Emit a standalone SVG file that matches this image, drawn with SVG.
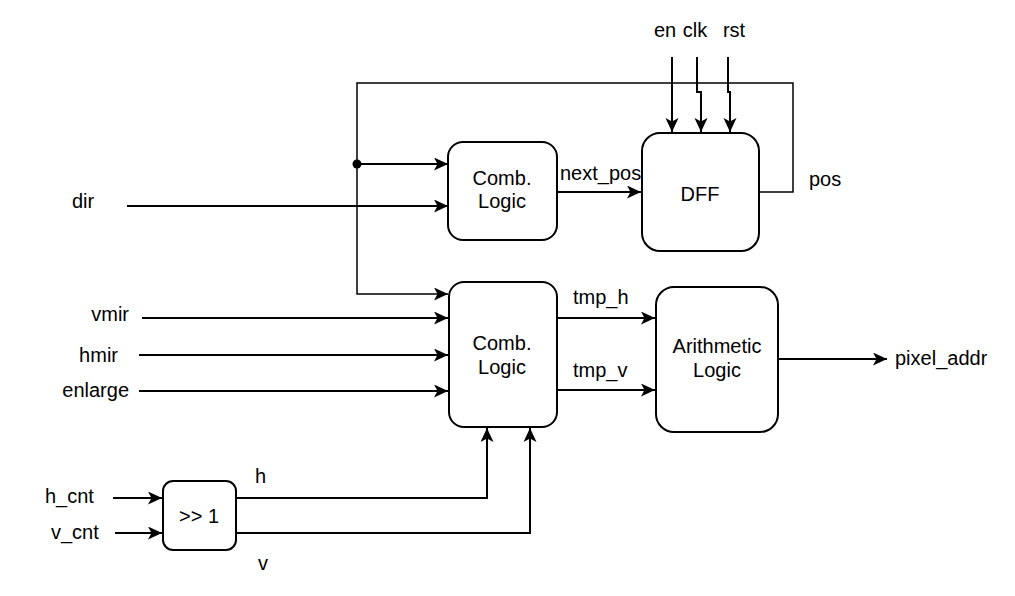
<svg xmlns="http://www.w3.org/2000/svg" width="1015" height="596" viewBox="0 0 1015 596">
<style>
.box{fill:#fff;stroke:#000;stroke-width:2}
.w{fill:none;stroke:#000;stroke-width:2}
.fb{fill:none;stroke:#000;stroke-width:1.5}
text{font-family:"Liberation Sans",Arial,sans-serif;font-size:20px;fill:#000}
.c{text-anchor:middle}
.e{text-anchor:end}
</style>
<defs>
<marker id="arr" markerUnits="userSpaceOnUse" markerWidth="16" markerHeight="14" refX="14" refY="6.5" orient="auto">
<path d="M0,0 L14,6.5 L0,13 L3.5,6.5 z" fill="#000"/>
</marker>
</defs>
<rect width="1015" height="596" fill="#fff"/>
<g id="connectors">
<polyline class="fb" points="759,192 793,192 793,83 357,83 357,294 448,294" marker-end="url(#arr)"/>
<line class="w" x1="357" y1="164" x2="448" y2="164" marker-end="url(#arr)"/>
<circle cx="357" cy="164" r="4.5" fill="#000"/>
<line class="w" x1="127" y1="206" x2="448" y2="206" marker-end="url(#arr)"/>
<line class="w" x1="557" y1="192" x2="641" y2="192" marker-end="url(#arr)"/>
<line class="w" x1="672" y1="57" x2="672" y2="132" marker-end="url(#arr)"/>
<polyline class="w" points="697,57 697,92 701,92 701,132" marker-end="url(#arr)"/>
<polyline class="w" points="728,57 728,92 730,92 730,132" marker-end="url(#arr)"/>
<line class="w" x1="142" y1="318" x2="448" y2="318" marker-end="url(#arr)"/>
<line class="w" x1="139" y1="355" x2="448" y2="355" marker-end="url(#arr)"/>
<line class="w" x1="139" y1="391" x2="448" y2="391" marker-end="url(#arr)"/>
<line class="w" x1="557" y1="318" x2="655" y2="318" marker-end="url(#arr)"/>
<line class="w" x1="557" y1="390" x2="655" y2="390" marker-end="url(#arr)"/>
<line class="w" x1="778" y1="359" x2="887" y2="359" marker-end="url(#arr)"/>
<line class="w" x1="113" y1="498" x2="162" y2="498" marker-end="url(#arr)"/>
<line class="w" x1="115" y1="533" x2="162" y2="533" marker-end="url(#arr)"/>
<polyline class="w" points="236,498 487,498 487,428" marker-end="url(#arr)"/>
<polyline class="w" points="236,533 530,533 530,428" marker-end="url(#arr)"/>
</g>
<g id="comb1">
<rect class="box" x="448" y="142" width="109" height="98" rx="15"/>
<text class="c" x="502" y="185">Comb.</text>
<text class="c" x="502" y="208">Logic</text>
</g>
<g id="dff">
<rect class="box" x="642" y="133" width="117" height="118" rx="18"/>
<text class="c" x="700" y="201">DFF</text>
</g>
<g id="comb2">
<rect class="box" x="449" y="282" width="108" height="145" rx="15"/>
<text class="c" x="502" y="350">Comb.</text>
<text class="c" x="502" y="374">Logic</text>
</g>
<g id="arith">
<rect class="box" x="656" y="287" width="122" height="145" rx="18"/>
<text class="c" x="717" y="353">Arithmetic</text>
<text class="c" x="717" y="377">Logic</text>
</g>
<g id="shift">
<rect class="box" x="163" y="481" width="73" height="69" rx="10"/>
<text class="c" x="199" y="523">&gt;&gt; 1</text>
</g>
<g id="labels">
<text class="c" x="665" y="37">en</text>
<text class="c" x="695" y="37">clk</text>
<text class="c" x="734" y="37">rst</text>
<text x="72" y="208">dir</text>
<text x="560" y="180">next_pos</text>
<text x="809" y="186">pos</text>
<text class="e" x="129" y="321">vmir</text>
<text class="e" x="118" y="362">hmir</text>
<text class="e" x="129" y="397">enlarge</text>
<text x="573" y="304">tmp_h</text>
<text x="573" y="377">tmp_v</text>
<text x="895" y="365">pixel_addr</text>
<text x="45" y="503">h_cnt</text>
<text x="51" y="539">v_cnt</text>
<text x="255" y="483">h</text>
<text x="258" y="570">v</text>
</g>
</svg>
